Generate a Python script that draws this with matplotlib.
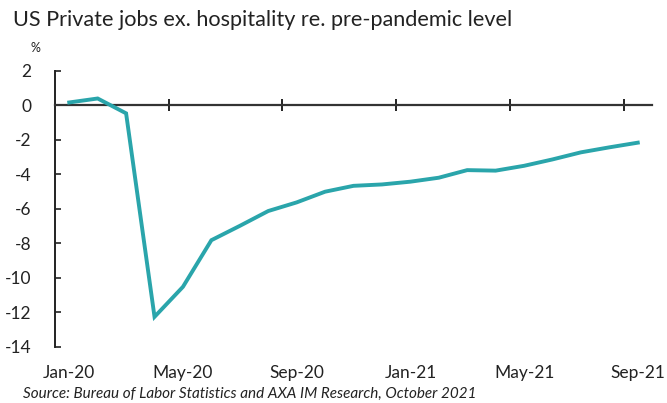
import matplotlib
matplotlib.use("Agg")
import matplotlib.pyplot as plt

plt.rcParams['font.family'] = ['Lato', 'DejaVu Sans']

# Monthly private payrolls excluding hospitality, % vs. Feb-2020 level
months = ['Jan-20', 'Feb-20', 'Mar-20', 'Apr-20', 'May-20', 'Jun-20', 'Jul-20',
          'Aug-20', 'Sep-20', 'Oct-20', 'Nov-20', 'Dec-20', 'Jan-21', 'Feb-21',
          'Mar-21', 'Apr-21', 'May-21', 'Jun-21', 'Jul-21', 'Aug-21', 'Sep-21']
jobs_pct = [0.15, 0.38, -0.48, -12.27, -10.53, -7.83, -7.0, -6.14, -5.64, -5.02,
            -4.68, -4.6, -4.44, -4.21, -3.77, -3.8, -3.52, -3.15, -2.74, -2.45, -2.18]
y_ticks = [2, 0, -2, -4, -6, -8, -10, -12, -14]
label_every = 4

fig = plt.figure(figsize=(6.67, 4.03), dpi=100)
ax = fig.add_axes([0.0825, 0.1397, 0.895, 0.6853])

x = list(range(len(months)))
ax.plot(x, jobs_pct, color='#2aa5ab', lw=2.8, solid_joinstyle='miter', zorder=3)

ax.set_xlim(-0.5, len(months) - 0.5)
ax.set_ylim(min(y_ticks), max(y_ticks))

# value axis
ax.set_yticks(y_ticks)
ax.set_yticklabels([str(v) for v in y_ticks])
ax.tick_params(axis='y', direction='in', length=4, width=1.2, color='#222222',
               labelsize=12.5, labelcolor='#222222', pad=17)
ax.spines['left'].set_linewidth(1.4)
ax.spines['left'].set_color('#222222')

# category axis crossing at zero, ticks between category groups
ax.spines['bottom'].set_position(('data', 0))
ax.spines['bottom'].set_linewidth(1.6)
ax.spines['bottom'].set_color('#333333')
ax.spines['top'].set_visible(False)
ax.spines['right'].set_visible(False)
ax.set_xticks([i - 0.5 for i in range(label_every, len(months), label_every)])
ax.tick_params(axis='x', direction='inout', length=9, width=1.4, color='#222222',
               labelbottom=False)

# month labels along the bottom
sec = ax.secondary_xaxis('bottom')
sec.set_xticks(x[::label_every])
sec.set_xticklabels(months[::label_every])
sec.tick_params(length=0, labelsize=12.5, labelcolor='#222222', pad=13)
sec.spines['bottom'].set_visible(False)

fig.text(0.019, 0.95, 'US Private jobs ex. hospitality re. pre-pandemic level',
         fontsize=15.6, color='#222222', va='center', ha='left')
fig.text(0.046, 0.881, '%', fontsize=9, color='#222222', va='center', ha='left')
fig.text(0.034, 0.022, 'Source: Bureau of Labor Statistics and AXA IM Research, October 2021',
         fontsize=11, style='italic', color='#222222', va='center', ha='left')

fig.savefig('out.png', dpi=100)
